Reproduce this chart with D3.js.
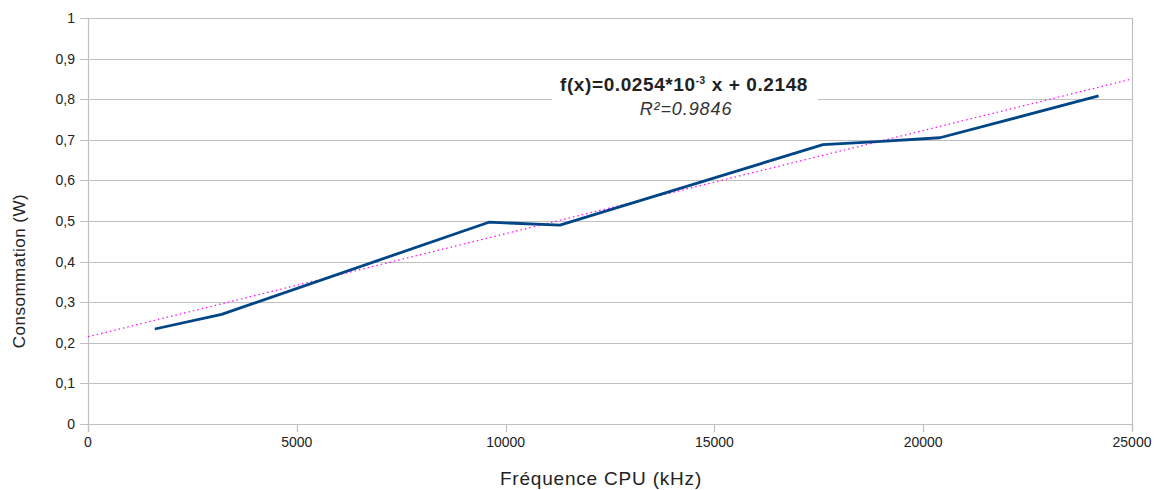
<!DOCTYPE html>
<html>
<head>
<meta charset="utf-8">
<script src="https://cdn.jsdelivr.net/npm/d3@7"></script>
<style>
  body { margin: 0; background: #fff; }
  text { font-family: "Liberation Sans", Arial, sans-serif; fill: #222; }
</style>
</head>
<body>
<div id="chart"></div>
<script>
// measured points (kHz, W)
var freqs = [1600, 3200, 9600, 11300, 17600, 18800, 20400, 24200];
var watts = [0.234, 0.270, 0.497, 0.490, 0.688, 0.695, 0.705, 0.808];

// linear trend from the chart annotation
var slope = 0.0254e-3;
var intercept = 0.2148;

var xTicks = [0, 5000, 10000, 15000, 20000, 25000];
var yTicks = [0, 0.1, 0.2, 0.3, 0.4, 0.5, 0.6, 0.7, 0.8, 0.9, 1];

var svgWidth = 1157;
var svgHeight = 490;
var margin = { top: 18, right: 25, bottom: 66, left: 88 };
var width = svgWidth - margin.left - margin.right;
var height = svgHeight - margin.top - margin.bottom;

var svg = d3.select("#chart").append("svg")
  .attr("width", svgWidth)
  .attr("height", svgHeight);

var chartGroup = svg.append("g")
  .attr("transform", `translate(${margin.left}, ${margin.top})`);

var x = d3.scaleLinear().domain([0, 25000]).range([0, width]);
var y = d3.scaleLinear().domain([0, 1]).range([height, 0]);

// horizontal grid lines
chartGroup.append("g")
  .selectAll("line")
  .data(yTicks)
  .enter()
  .append("line")
  .attr("x1", -8)
  .attr("x2", width)
  .attr("y1", d => Math.round(y(d)) + 0.5)
  .attr("y2", d => Math.round(y(d)) + 0.5)
  .attr("stroke", "#c0c0c0")
  .attr("stroke-width", 1.2);

// left and right borders
chartGroup.append("line")
  .attr("x1", 0.5).attr("x2", 0.5)
  .attr("y1", 0).attr("y2", height + 8)
  .attr("stroke", "#c0c0c0").attr("stroke-width", 1.2);
chartGroup.append("line")
  .attr("x1", width + 0.5).attr("x2", width + 0.5)
  .attr("y1", 0).attr("y2", height + 8)
  .attr("stroke", "#c0c0c0").attr("stroke-width", 1.2);

// x ticks
chartGroup.append("g")
  .selectAll("line")
  .data(xTicks)
  .enter()
  .append("line")
  .attr("x1", d => Math.round(x(d)) + 0.5)
  .attr("x2", d => Math.round(x(d)) + 0.5)
  .attr("y1", height)
  .attr("y2", height + 8)
  .attr("stroke", "#c0c0c0")
  .attr("stroke-width", 1.2);

// tick labels
chartGroup.append("g")
  .selectAll("text")
  .data(yTicks)
  .enter()
  .append("text")
  .attr("x", -13)
  .attr("y", d => y(d) + 5)
  .attr("text-anchor", "end")
  .style("font-size", "14px")
  .text(d => d3.format(".1~f")(d).replace(".", ","));

chartGroup.append("g")
  .selectAll("text")
  .data(xTicks)
  .enter()
  .append("text")
  .attr("x", d => x(d))
  .attr("y", height + 23)
  .attr("text-anchor", "middle")
  .style("font-size", "14px")
  .text(d => d);

// trend line
chartGroup.append("line")
  .attr("x1", x(0))
  .attr("y1", y(intercept))
  .attr("x2", x(25000))
  .attr("y2", y(intercept + slope * 25000))
  .attr("stroke", "#ff00ff")
  .attr("stroke-width", 1.2)
  .attr("stroke-dasharray", "1.5,3");

// data line
var points = freqs.map((f, i) => [f, watts[i]]);
chartGroup.append("path")
  .datum(points)
  .attr("fill", "none")
  .attr("stroke", "#004586")
  .attr("stroke-width", 2.8)
  .attr("stroke-linejoin", "round")
  .attr("d", d3.line().x(d => x(d[0])).y(d => y(d[1])));

// equation box
svg.append("rect")
  .attr("x", 552).attr("y", 66)
  .attr("width", 266).attr("height", 56)
  .attr("fill", "#fff");

var eq = svg.append("text")
  .attr("x", 684)
  .attr("y", 91)
  .attr("text-anchor", "middle")
  .style("font-size", "19px")
  .style("font-weight", "bold")
  .style("letter-spacing", "0.6px");
eq.append("tspan").text("f(x)=0.0254*10");
eq.append("tspan").attr("dy", -7).style("font-size", "10px").text("-3");
eq.append("tspan").attr("dy", 7).text(" x + 0.2148");

svg.append("text")
  .attr("x", 686)
  .attr("y", 115)
  .attr("text-anchor", "middle")
  .style("font-size", "18px")
  .style("font-style", "italic")
  .style("letter-spacing", "0.9px")
  .style("fill", "#333")
  .text("R²=0.9846");

// axis titles
svg.append("text")
  .attr("x", 601)
  .attr("y", 485)
  .attr("text-anchor", "middle")
  .style("font-size", "19px")
  .style("letter-spacing", "0.8px")
  .text("Fréquence CPU (kHz)");

svg.append("text")
  .attr("transform", "translate(25, 271) rotate(-90)")
  .attr("text-anchor", "middle")
  .style("font-size", "17px")
  .style("letter-spacing", "0.5px")
  .text("Consommation (W)");
</script>
</body>
</html>
